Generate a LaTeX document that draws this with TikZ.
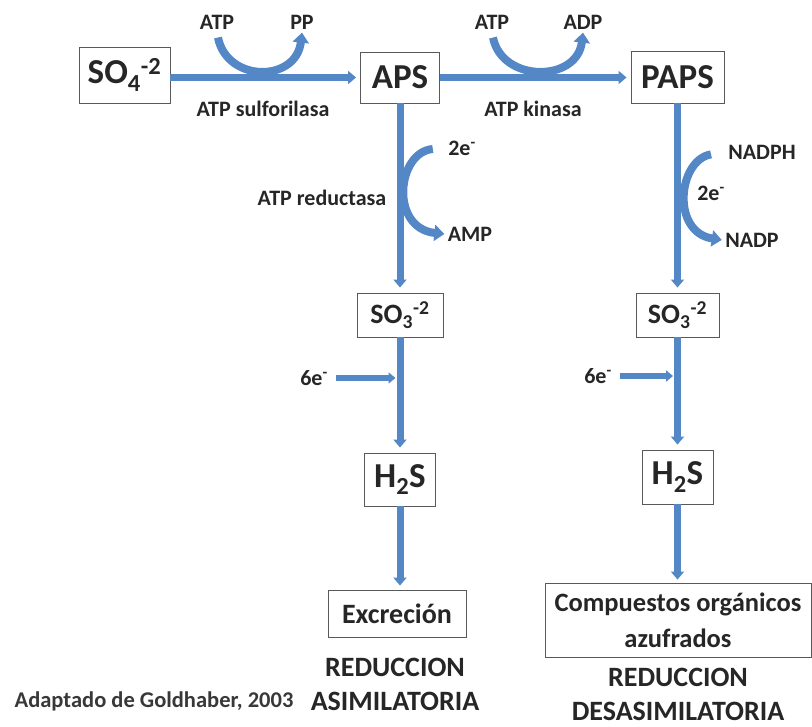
\documentclass[tikz,border=0pt]{standalone}
\usepackage{fontspec}
\setmainfont{Carlito}
\usetikzlibrary{arrows.meta}
\definecolor{flowblue}{RGB}{84,135,197}
\definecolor{inkgray}{RGB}{38,38,38}

\begin{document}
\begin{tikzpicture}[x=1pt,y=-1pt,
    every node/.style={text=inkgray, font=\bfseries},
    box/.style={draw=black!65, line width=0.9pt, fill=white, inner sep=0pt},
    big/.style={font=\bfseries\fontsize{35}{36}\selectfont},
    mid/.style={font=\bfseries\fontsize{28}{34}\selectfont},
    small/.style={font=\bfseries\fontsize{22}{24}\selectfont},
    flow/.style={draw=flowblue, line width=7pt, -{Triangle[length=8pt,width=13pt]}},
    side/.style={draw=flowblue, line width=8pt, -{Triangle[length=10pt,width=16pt]}},
    feed/.style={draw=flowblue, line width=5.5pt, -{Triangle[length=7pt,width=11pt]}}]

    \useasboundingbox (0,0) rectangle (812,727);

    % boxes
    \node[box,big,minimum width=91pt,minimum height=56pt] (so4) at (124.5,75) {SO\textsubscript{4}\textsuperscript{-2}};
    \node[box,big,minimum width=79pt,minimum height=51pt] (aps) at (400,77.5) {APS};
    \node[box,big,minimum width=93pt,minimum height=52pt] (paps) at (677.5,77) {PAPS};
    \node[box,mid,minimum width=86pt,minimum height=44pt] (so3a) at (400,315) {SO\textsubscript{3}\textsuperscript{-2}};
    \node[box,mid,minimum width=83pt,minimum height=44pt] (so3d) at (677.5,315) {SO\textsubscript{3}\textsuperscript{-2}};
    \node[box,big,minimum width=71pt,minimum height=53pt] (h2sa) at (400,479.5) {H\textsubscript{2}S};
    \node[box,big,minimum width=71pt,minimum height=54pt] (h2sd) at (677.5,477) {H\textsubscript{2}S};
    \node[box,mid,minimum width=138pt,minimum height=47pt] (excr) at (397,613.5) {Excreción};
    \node[box,font=\bfseries\fontsize{26.5}{36}\selectfont,align=center,minimum width=266pt,minimum height=74pt] (comp) at (678,620) {Compuestos orgánicos\\azufrados};

    % side labels
    \node[small] (atp1) at (217,22) {ATP};
    \node[small] (pp) at (302,22) {PP};
    \node[small] (atp2) at (492,22) {ATP};
    \node[small] (adp) at (583,22) {ADP};
    \node[small] (sulf) at (263,109) {ATP sulforilasa};
    \node[small] (kin) at (533,109) {ATP kinasa};
    \node[small] (red) at (322,198) {ATP reductasa};
    \node[small] (e2a) at (462,148) {2e\textsuperscript{-}};
    \node[small] (amp) at (470,234) {AMP};
    \node[small] (nadph) at (762,152) {NADPH};
    \node[small] (e2d) at (711,193) {2e\textsuperscript{-}};
    \node[small] (nadp) at (752,240) {NADP};
    \node[small] (e6a) at (314,378) {6e\textsuperscript{-}};
    \node[small] (e6d) at (598,376) {6e\textsuperscript{-}};

    \node[mid,align=center] (asim) at (395,684) {REDUCCION\\ASIMILATORIA};
    \node[mid,align=center] (desas) at (678,694) {REDUCCION\\DESASIMILATORIA};
    \node[font=\bfseries\fontsize{22.5}{24}\selectfont,text=black!78] (src) at (154,701) {Adaptado de Goldhaber, 2003};

    % main path
    \draw[flow,shorten >=4pt] (so4.east |- aps.west) -- (aps.west);
    \draw[flow,shorten >=4pt] (aps.east) -- (paps.west |- aps.east);
    \draw[flow,shorten >=5pt] (aps.south) -- (so3a.north);
    \draw[flow,shorten >=5pt] (so3a.south) -- (h2sa.north);
    \draw[flow,shorten >=4pt] (h2sa.south) -- (h2sa.south |- excr.north);
    \draw[flow,shorten >=5pt] (paps.south) -- (so3d.north);
    \draw[flow,shorten >=5pt] (so3d.south) -- (h2sd.north);
    \draw[flow,shorten >=3pt] (h2sd.south) -- (h2sd.south |- comp.north);

    % cofactors
    \draw[side,shorten <=5pt] (atp1.south) .. controls +(10,50) and +(-6,50) .. (pp.south);
    \draw[side,shorten <=5pt] (atp2.south) .. controls +(10,50) and +(-6,50) .. (adp.south);
    \draw[side,shorten <=12pt] (e2a.west) .. controls +(-48,4) and +(-55,-6) .. (amp.west);
    \draw[side,shorten <=14pt] (nadph.west) .. controls +(-47,8) and +(-51,-8) .. (nadp.west);
    \draw[feed,shorten <=5pt,shorten >=4.5pt] (e6a.east) -- (e6a.east -| h2sa);
    \draw[feed,shorten <=5pt,shorten >=4.5pt] (e6d.east) -- (e6d.east -| h2sd);

\end{tikzpicture}
\end{document}
